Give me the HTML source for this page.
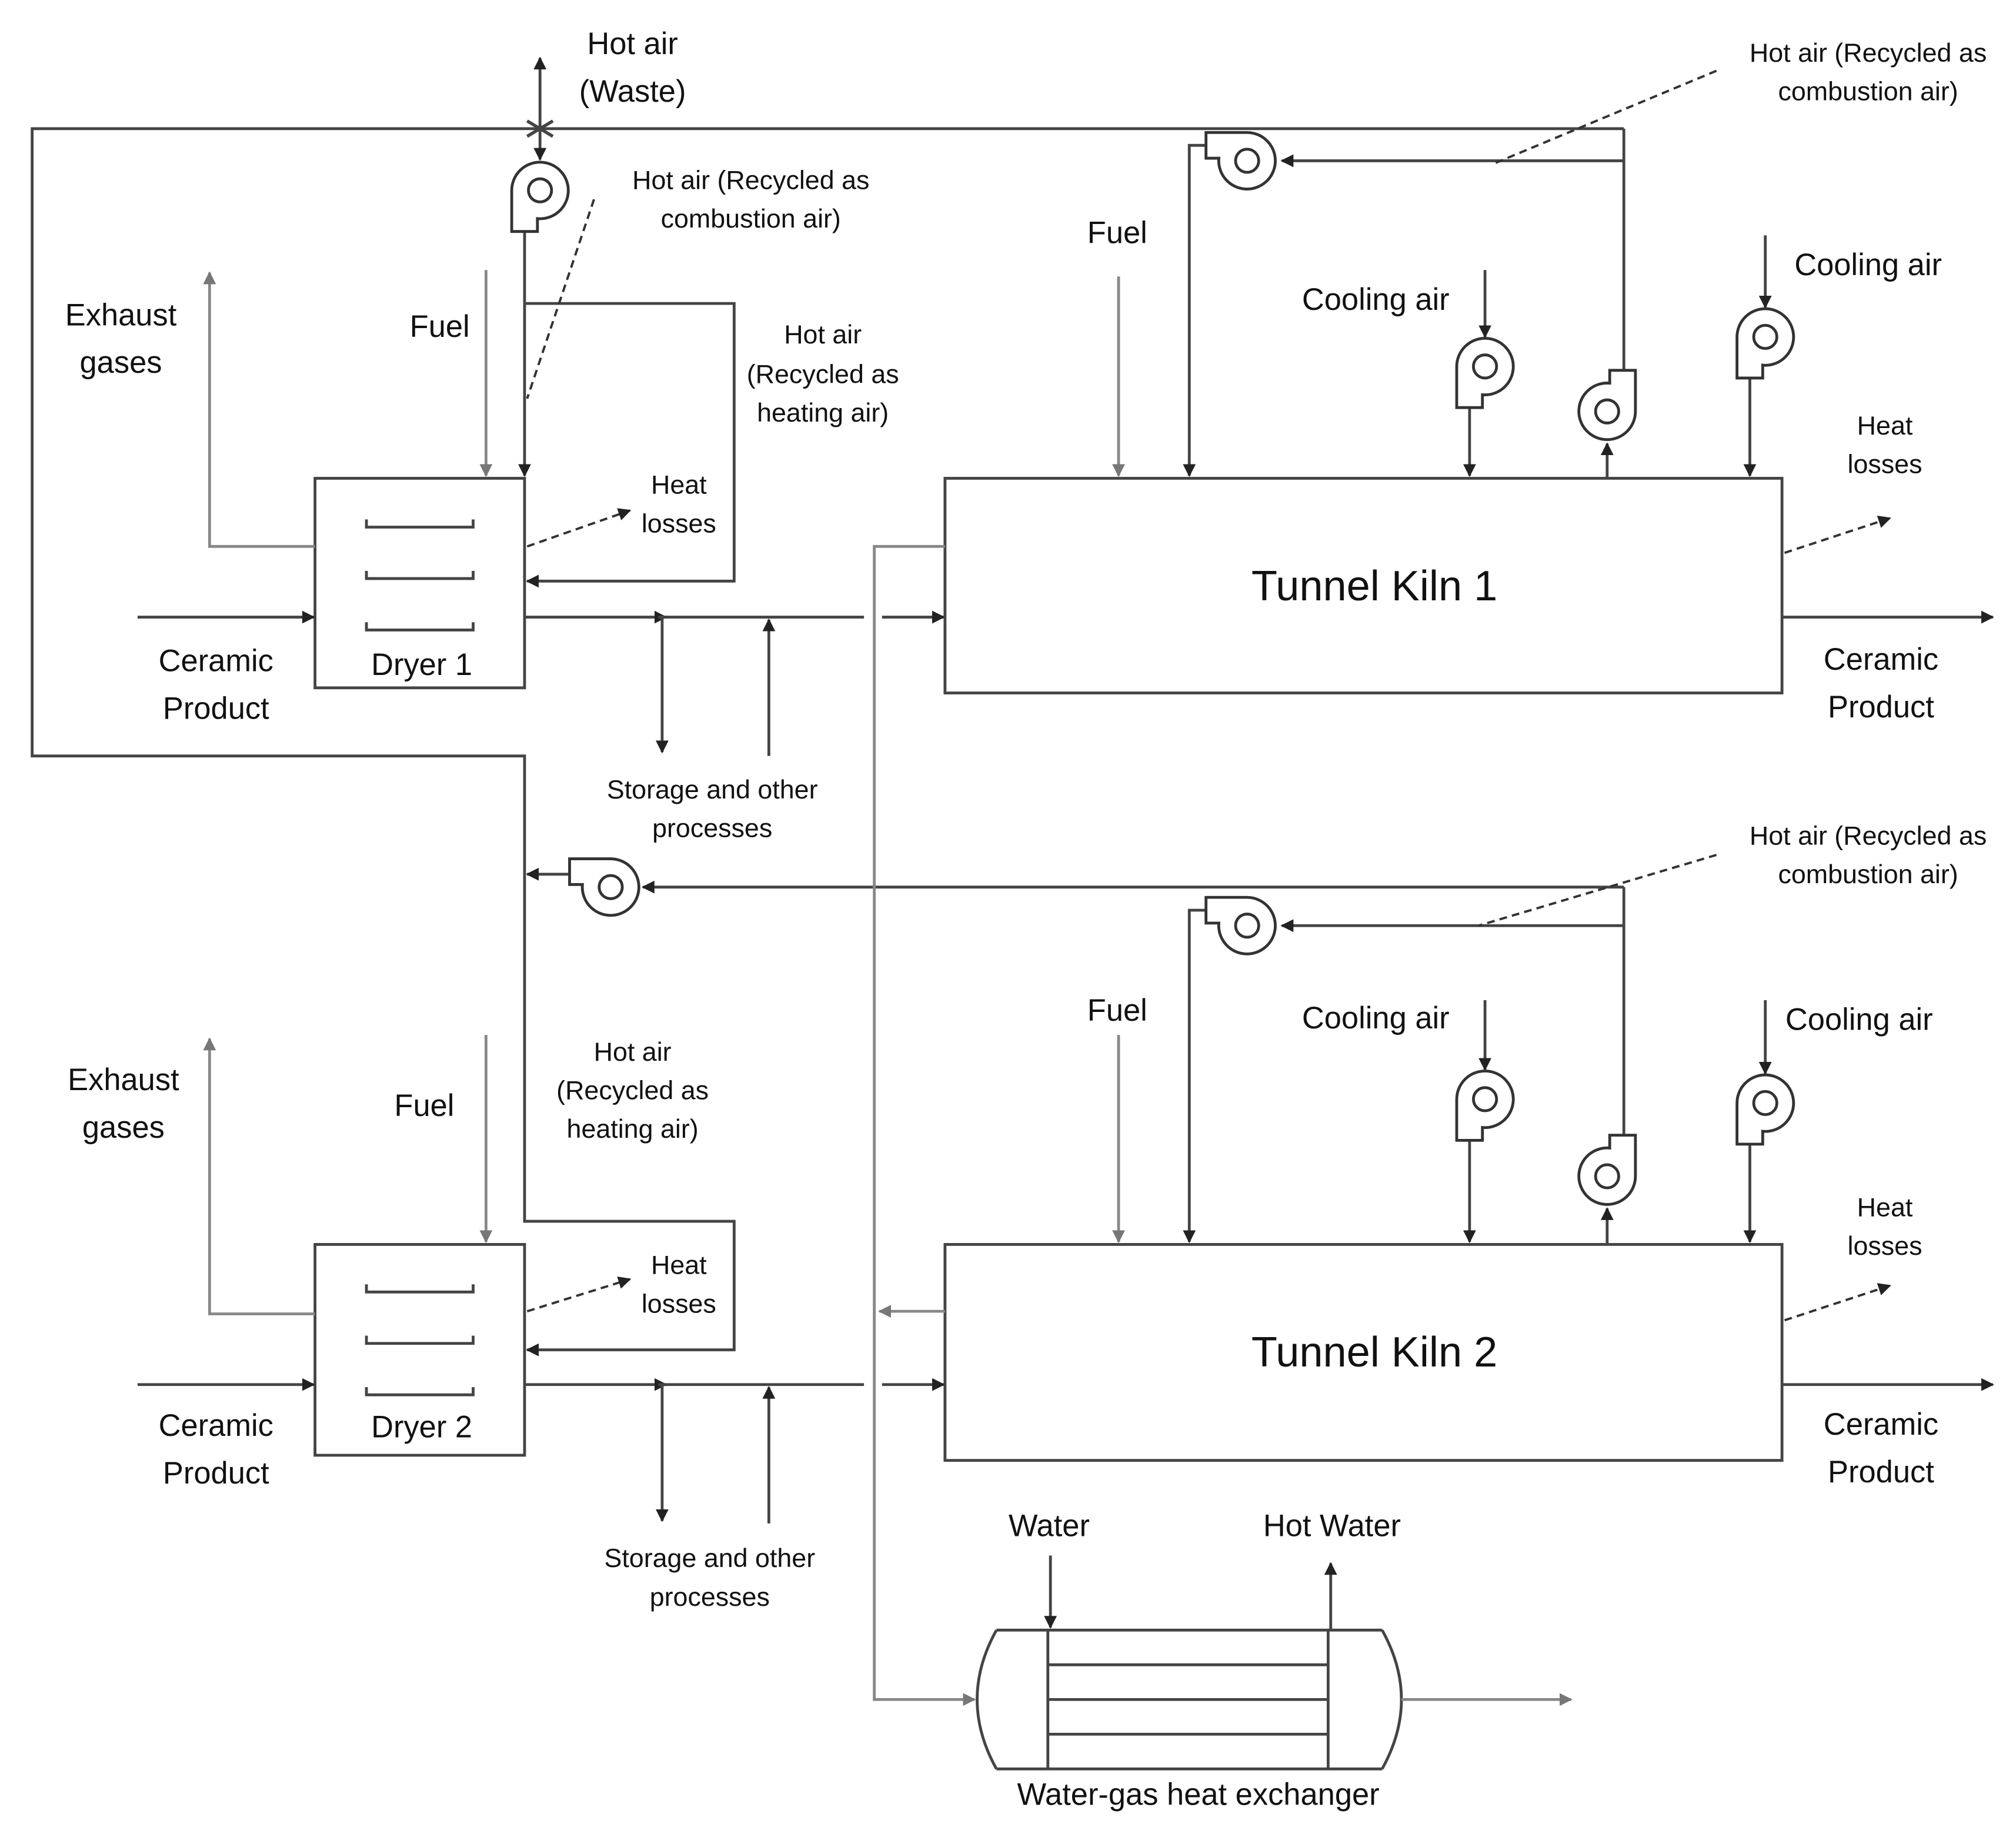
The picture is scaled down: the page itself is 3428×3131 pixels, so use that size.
<!DOCTYPE html>
<html><head><meta charset="utf-8"><style>
html,body{margin:0;padding:0;background:#fff}
svg{display:block}
text{font-family:"Liberation Sans",sans-serif;fill:#111}
.l{font-size:24px}.s{font-size:20.5px}.k{font-size:33px}
</style></head><body>
<svg width="3428" height="3131" viewBox="0 0 1568 1432" xmlns="http://www.w3.org/2000/svg">
<defs>
<marker id="a" markerWidth="10" markerHeight="10" refX="9" refY="5" orient="auto" markerUnits="userSpaceOnUse"><path d="M0,0 L10,5 L0,10 Z" fill="#222"/></marker>
<marker id="g" markerWidth="10" markerHeight="10" refX="9" refY="5" orient="auto" markerUnits="userSpaceOnUse"><path d="M0,0 L10,5 L0,10 Z" fill="#777"/></marker>
<g id="fan"><path d="M -22 0 A 22 22 0 1 1 -2 22 L -2 32 L -22 32 Z" fill="#fff" stroke="#333" stroke-width="2.2"/><circle r="9" fill="none" stroke="#333" stroke-width="2.2"/></g>
</defs>
<g fill="none" stroke="#444" stroke-width="2.2">
<!-- big top loop -->
<path d="M1263 100 H25 V588 H408 V950 H571 V1050 H410" marker-end="url(#a)"/>
<!-- dryer1 -->
<rect x="245" y="372" width="163" height="163"/>
<rect x="245" y="968" width="163" height="164"/>
<path d="M285 404V410H368V404 M285 444V450H368V444 M285 484V490H368V484"/>
<path d="M285 999V1005H368V999 M285 1039V1045H368V1039 M285 1079V1085H368V1079"/>
<path d="M408 180V370" marker-end="url(#a)"/>
<path d="M420 100V45" marker-end="url(#a)"/>
<path d="M420 100V124" marker-end="url(#a)"/>
<path d="M410 94 L430 106 M410 106 L430 94" stroke-width="2.5"/>
<path d="M408 236H571V452H410" marker-end="url(#a)"/>
<!-- product lines -->
<path d="M107 480H244" marker-end="url(#a)"/>
<path d="M408 480H518" marker-end="url(#a)"/>
<path d="M512 480H672 M686 480H734" marker-end="url(#a)"/>
<path d="M515 480V585" marker-end="url(#a)"/>
<path d="M598 588V482" marker-end="url(#a)"/>
<path d="M1386 480H1550" marker-end="url(#a)"/>
<path d="M107 1077H244" marker-end="url(#a)"/>
<path d="M408 1077H518" marker-end="url(#a)"/>
<path d="M512 1077H672 M686 1077H734" marker-end="url(#a)"/>
<path d="M515 1077V1183" marker-end="url(#a)"/>
<path d="M598 1185V1079" marker-end="url(#a)"/>
<path d="M1386 1077H1550" marker-end="url(#a)"/>
<!-- kilns -->
<rect x="735" y="372" width="651" height="167"/>
<rect x="735" y="968" width="651" height="168"/>
<!-- kiln1 recirc -->
<path d="M1263 100V296"/>
<path d="M1263 125H997" marker-end="url(#a)"/>
<path d="M938 113H925V370" marker-end="url(#a)"/>
<path d="M1155 210V262" marker-end="url(#a)"/>
<path d="M1143 316V370" marker-end="url(#a)"/>
<path d="M1373 183V239" marker-end="url(#a)"/>
<path d="M1361 293V370" marker-end="url(#a)"/>
<path d="M1250 372V345" marker-end="url(#a)"/>
<!-- kiln2 recirc -->
<path d="M1263 690V890"/>
<path d="M1263 690H500" marker-end="url(#a)"/>
<path d="M442 680H410" marker-end="url(#a)"/>
<path d="M1263 720H997" marker-end="url(#a)"/>
<path d="M938 708H925V966" marker-end="url(#a)"/>
<path d="M1155 778V832" marker-end="url(#a)"/>
<path d="M1143 886V966" marker-end="url(#a)"/>
<path d="M1373 778V835" marker-end="url(#a)"/>
<path d="M1361 889V966" marker-end="url(#a)"/>
<path d="M1250 968V940" marker-end="url(#a)"/>
<!-- heat exchanger -->
<path d="M775 1268H1075 M775 1376H1075 M815 1268V1376 M1033 1268V1376 M815 1295H1033 M815 1322H1033 M815 1349H1033"/>
<path d="M775 1268 Q745 1322 775 1376 M1075 1268 Q1105 1322 1075 1376"/>
<path d="M817 1210V1266" marker-end="url(#a)"/>
<path d="M1035 1268V1216" marker-end="url(#a)"/>
</g>
<g fill="none" stroke="#888" stroke-width="2.2">
<path d="M245 425H163V212" marker-end="url(#g)"/>
<path d="M245 1022H163V808" marker-end="url(#g)"/>
<path d="M378 210V370" marker-end="url(#g)"/>
<path d="M378 805V966" marker-end="url(#g)"/>
<path d="M870 215V370" marker-end="url(#g)"/>
<path d="M870 805V966" marker-end="url(#g)"/>
<path d="M735 425H680V1322H758" marker-end="url(#g)"/>
<path d="M735 1020H684" marker-end="url(#g)"/>
<path d="M1090 1322H1222" marker-end="url(#g)"/>
</g>
<g fill="none" stroke="#333" stroke-width="1.8" stroke-dasharray="6,4">
<path d="M462 155L410 310"/>
<path d="M1335 55L1160 128"/>
<path d="M1335 665L1150 720"/>
<path d="M410 425L490 397" marker-end="url(#a)"/>
<path d="M410 1020L490 995" marker-end="url(#a)"/>
<path d="M1388 430L1470 403" marker-end="url(#a)"/>
<path d="M1388 1027L1470 1000" marker-end="url(#a)"/>
</g>
<use href="#fan" transform="translate(420,148)"/>
<use href="#fan" transform="translate(970,125) rotate(90)"/>
<use href="#fan" transform="translate(1155,285)"/>
<use href="#fan" transform="translate(1373,262)"/>
<use href="#fan" transform="translate(1250,320) rotate(180)"/>
<use href="#fan" transform="translate(475,690) rotate(90)"/>
<use href="#fan" transform="translate(970,720) rotate(90)"/>
<use href="#fan" transform="translate(1155,855)"/>
<use href="#fan" transform="translate(1373,858)"/>
<use href="#fan" transform="translate(1250,915) rotate(180)"/>
<g text-anchor="middle">
<text class="l" x="492" y="42">Hot air</text><text class="l" x="492" y="79">(Waste)</text>
<text class="s" x="584" y="147">Hot air (Recycled as</text><text class="s" x="584" y="177">combustion air)</text>
<text class="s" x="1453" y="48">Hot air (Recycled as</text><text class="s" x="1453" y="78">combustion air)</text>
<text class="s" x="1453" y="657">Hot air (Recycled as</text><text class="s" x="1453" y="687">combustion air)</text>
<text class="s" x="640" y="267">Hot air</text><text class="s" x="640" y="298">(Recycled as</text><text class="s" x="640" y="328">heating air)</text>
<text class="s" x="492" y="825">Hot air</text><text class="s" x="492" y="855">(Recycled as</text><text class="s" x="492" y="885">heating air)</text>
<text class="l" x="94" y="253">Exhaust</text><text class="l" x="94" y="290">gases</text>
<text class="l" x="96" y="848">Exhaust</text><text class="l" x="96" y="885">gases</text>
<text class="l" x="342" y="262">Fuel</text>
<text class="l" x="330" y="868">Fuel</text>
<text class="l" x="869" y="189">Fuel</text>
<text class="l" x="869" y="794">Fuel</text>
<text class="l" x="1070" y="241">Cooling air</text>
<text class="l" x="1453" y="214">Cooling air</text>
<text class="l" x="1070" y="800">Cooling air</text>
<text class="l" x="1446" y="801">Cooling air</text>
<text class="s" x="528" y="384">Heat</text><text class="s" x="528" y="414">losses</text>
<text class="s" x="528" y="991">Heat</text><text class="s" x="528" y="1021">losses</text>
<text class="s" x="1466" y="338">Heat</text><text class="s" x="1466" y="368">losses</text>
<text class="s" x="1466" y="946">Heat</text><text class="s" x="1466" y="976">losses</text>
<text class="l" x="168" y="522">Ceramic</text><text class="l" x="168" y="559">Product</text>
<text class="l" x="168" y="1117">Ceramic</text><text class="l" x="168" y="1154">Product</text>
<text class="l" x="1463" y="521">Ceramic</text><text class="l" x="1463" y="558">Product</text>
<text class="l" x="1463" y="1116">Ceramic</text><text class="l" x="1463" y="1153">Product</text>
<text class="l" x="328" y="525">Dryer 1</text>
<text class="l" x="328" y="1118">Dryer 2</text>
<text class="k" x="1069" y="467">Tunnel Kiln 1</text>
<text class="k" x="1069" y="1063">Tunnel Kiln 2</text>
<text class="s" x="554" y="621">Storage and other</text><text class="s" x="554" y="651">processes</text>
<text class="s" x="552" y="1219">Storage and other</text><text class="s" x="552" y="1249">processes</text>
<text class="l" x="816" y="1195">Water</text>
<text class="l" x="1036" y="1195">Hot Water</text>
<text class="l" x="932" y="1404">Water-gas heat exchanger</text>
</g>
</svg>
</body></html>
